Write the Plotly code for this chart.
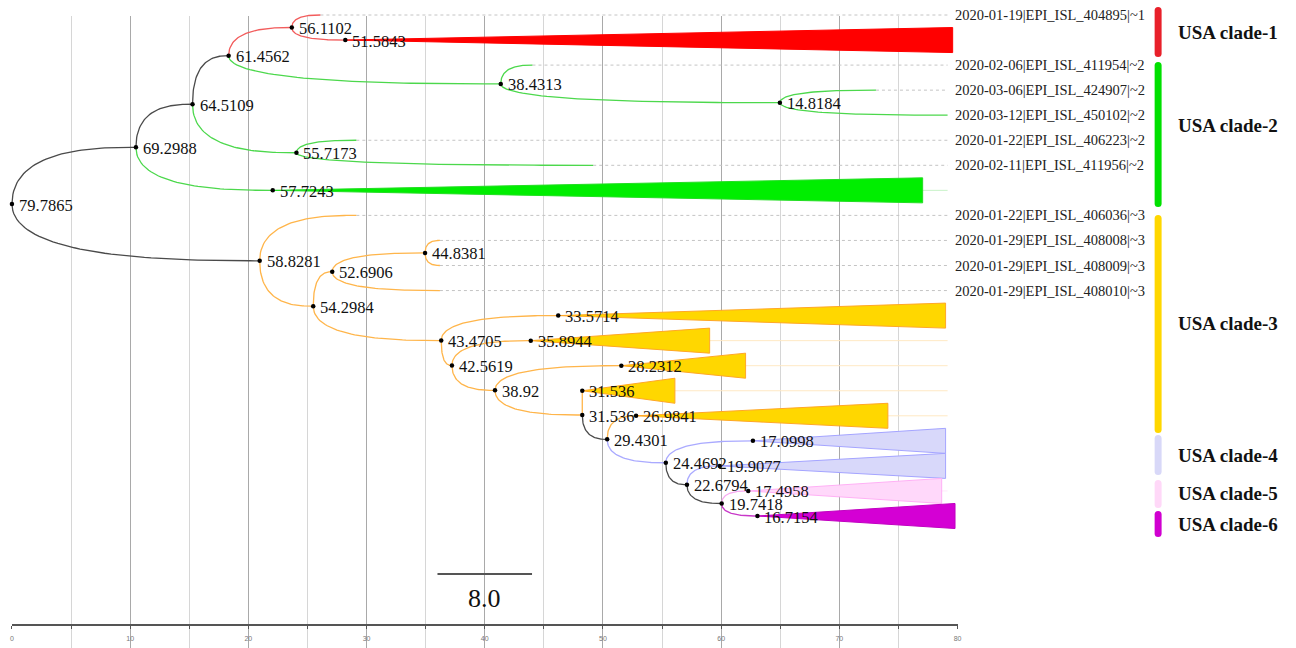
import numpy as np
import plotly.graph_objects as go

# ---------------- DATA ----------------
# rows (top to bottom): leaf tips and collapsed clades
leaf_names = [
    "2020-01-19|EPI_ISL_404895|~1", "",
    "2020-02-06|EPI_ISL_411954|~2", "2020-03-06|EPI_ISL_424907|~2",
    "2020-03-12|EPI_ISL_450102|~2", "2020-01-22|EPI_ISL_406223|~2",
    "2020-02-11|EPI_ISL_411956|~2", "",
    "2020-01-22|EPI_ISL_406036|~3", "2020-01-29|EPI_ISL_408008|~3",
    "2020-01-29|EPI_ISL_408009|~3", "2020-01-29|EPI_ISL_408010|~3",
    "", "", "", "", "", "", "", "", "",
]
# height of tip (for leaves) or of the collapsed node (for clades)
leaf_heights = [53.69, 51.5843, 35.75, 6.69, 0.63, 50.65, 30.61, 57.7243,
                50.65, 43.58, 43.58, 43.58, 33.5714, 35.8944, 28.2312, 31.536,
                26.9841, 17.0998, 19.9077, 17.4958, 16.7154]
# height at the far end of a collapsed clade's triangle (None = ordinary leaf)
clade_end_heights = [None, 0.2, None, None, None, None, None, 2.74,
                     None, None, None, None, 0.8, 20.76, 17.72, 23.7,
                     5.68, 0.8, 0.8, 1.13, 0.0]
leaf_groups = ["red", "red", "green", "green", "green", "green", "green", "green",
               "orange", "orange", "orange", "orange", "orange", "orange", "orange",
               "orange", "orange", "lav", "lav", "pink", "mag"]

internal_ids = ["A", "B", "C", "D", "E", "F", "H", "G", "N", "O",
                "P", "R", "Q", "S", "T", "U", "V", "W", "X", "Y"]
internal_heights = [79.7865, 69.2988, 64.5109, 61.4562, 56.1102, 38.4313, 14.8184,
                    55.7173, 58.8281, 54.2984, 52.6906, 44.8381, 43.4705, 42.5619,
                    38.92, 31.536, 29.4301, 24.4692, 22.6794, 19.7418]
internal_children = [["B", "N"], ["C", 7], ["D", "G"], ["E", "F"], [0, 1], [2, "H"],
                     [3, 4], [5, 6], [8, "O"], ["P", "Q"], ["R", 11], [9, 10],
                     [12, "S"], [13, "T"], [14, "U"], [15, "V"], [16, "W"],
                     [17, "X"], [18, "Y"], [19, 20]]
internal_groups = ["black", "black", "black", "black", "red", "green", "green",
                   "green", "black", "orange", "orange", "orange", "orange", "orange",
                   "orange", "orange", "black", "lav", "black", "black"]

clade_names = ["USA clade-1", "USA clade-2", "USA clade-3",
               "USA clade-4", "USA clade-5", "USA clade-6"]
clade_row_top = [-0.32, 1.88, 7.98, 16.77, 18.56, 19.80]
clade_row_bottom = [1.68, 7.66, 16.69, 18.36, 19.68, 20.84]

axis_ticks = [0, 10, 20, 30, 40, 50, 60, 70, 80]
axis_minor = [5, 15, 25, 35, 45, 55, 65, 75]
scale_len = 8.0

# ---------------- STYLE ----------------
W, H = 1296, 648
PX0, PXU = 10.0, 11.875       # pixel of 0 and pixels per unit
PY0, PYR = 15.0, 25.05        # pixel of row 0 and pixels per row
SERIF = "Liberation Serif, Times New Roman, serif"
line_col = {"black": "#4a4a4a", "red": "#f25c5c", "green": "#4cd84c",
            "orange": "#ffb54a", "lav": "#aaaaff", "pink": "#f7a8f0", "mag": "#c838c8"}
fill_col = {"red": "#ff0000", "green": "#00ee00", "orange": "#ffd700",
            "lav": "#d8d8fa", "pink": "#ffd8fa", "mag": "#d400d4"}
edge_col = {"red": "#ff0000", "green": "#22dd22", "orange": "#ffa726",
            "lav": "#a4a4ff", "pink": "#ffb0f5", "mag": "#c000c0"}
faint_col = {"red": "#ffd0d0", "green": "#c8f2c8", "orange": "#ffe9c4",
             "lav": "#e8e8ff", "pink": "#ffe8fb", "mag": "#f0c0f0"}
bar_col = ["#e8202a", "#00e000", "#ffd700", "#d8d8f8", "#ffd8f8", "#d000d0"]
label_end_u = (950 - PX0) / PXU

root_h = internal_heights[0]
idx = {k: i for i, k in enumerate(internal_ids)}


def node_pos(ref):
    if isinstance(ref, int):
        return root_h - leaf_heights[ref], float(ref)
    i = idx[ref]
    ys = [node_pos(c)[1] for c in internal_children[i]]
    return root_h - internal_heights[i], (ys[0] + ys[-1]) / 2.0


def curve(x0, y0, x1, y1, n=50, a=0.7):
    t = np.linspace(0, 1, n)
    xc = x0 + a * (x1 - x0)
    bx = (1 - t) ** 3 * x0 + 3 * (1 - t) ** 2 * t * x0 + 3 * (1 - t) * t ** 2 * xc + t ** 3 * x1
    by = (1 - t) ** 3 * y0 + 3 * (1 - t) ** 2 * t * y1 + 3 * (1 - t) * t ** 2 * y1 + t ** 3 * y1
    return list(bx), list(by)


branches = {g: ([], []) for g in line_col}
dots_x, dots_y, node_labels = [], [], []
for i, nid in enumerate(internal_ids):
    px, py = node_pos(nid)
    dots_x.append(px); dots_y.append(py)
    node_labels.append((px, py, f"{internal_heights[i]:g}"))
    for c in internal_children[i]:
        cx, cy = node_pos(c)
        g = leaf_groups[c] if isinstance(c, int) else internal_groups[idx[c]]
        bx, by = curve(px, py, cx, cy)
        branches[g][0].extend(bx + [None]); branches[g][1].extend(by + [None])

fig = go.Figure()

# grid / axis subplot (drawn first)
fig.add_trace(go.Scatter(x=[0, 80], y=[0.5, 0.5], mode="markers", marker=dict(opacity=0),
                         hoverinfo="skip", showlegend=False, xaxis="x", yaxis="y"))

# dotted guide lines from leaf tips to labels, faint lines after triangles
dx, dy = [], []
faint = {}
for r in range(len(leaf_heights)):
    if clade_end_heights[r] is None:
        tx = root_h - leaf_heights[r]
        if tx < label_end_u - 0.2:
            dx += [tx, label_end_u, None]; dy += [r, r, None]
    else:
        ex = root_h - clade_end_heights[r]
        if ex < label_end_u - 0.2:
            f = faint.setdefault(leaf_groups[r], ([], []))
            f[0].extend([ex, label_end_u, None]); f[1].extend([r, r, None])
fig.add_trace(go.Scatter(x=dx, y=dy, mode="lines", line=dict(color="#c4c4c4", width=1, dash="dot"),
                         hoverinfo="skip", showlegend=False, xaxis="x2", yaxis="y2"))
for g, (fx, fy) in faint.items():
    fig.add_trace(go.Scatter(x=fx, y=fy, mode="lines", line=dict(color=faint_col[g], width=1),
                             hoverinfo="skip", showlegend=False, xaxis="x2", yaxis="y2"))

# branches
for g, (bx, by) in branches.items():
    if bx:
        fig.add_trace(go.Scatter(x=bx, y=by, mode="lines", line=dict(color=line_col[g], width=1.3),
                                 hoverinfo="skip", showlegend=False, xaxis="x2", yaxis="y2"))

# collapsed clade triangles
for r in range(len(leaf_heights)):
    if clade_end_heights[r] is not None:
        ax = root_h - leaf_heights[r]
        ex = root_h - clade_end_heights[r]
        g = leaf_groups[r]
        fig.add_trace(go.Scatter(x=[ax, ex, ex, ax], y=[r, r - 0.5, r + 0.5, r], mode="lines",
                                 fill="toself", fillcolor=fill_col[g],
                                 line=dict(color=edge_col[g], width=1),
                                 hoverinfo="skip", showlegend=False, xaxis="x2", yaxis="y2"))
        dots_x.append(ax); dots_y.append(float(r))
        node_labels.append((ax, float(r), f"{leaf_heights[r]:g}"))

fig.add_trace(go.Scatter(x=dots_x, y=dots_y, mode="markers", marker=dict(color="black", size=4.5),
                         hoverinfo="skip", showlegend=False, xaxis="x2", yaxis="y2"))

# scale bar
sb_row = (574 - PY0) / PYR
sb_x0 = 36.0
fig.add_trace(go.Scatter(x=[sb_x0, sb_x0 + scale_len], y=[sb_row, sb_row], mode="lines",
                         line=dict(color="#555555", width=2), hoverinfo="skip",
                         showlegend=False, xaxis="x2", yaxis="y2"))

annotations = []
for (x, y, t) in node_labels:
    annotations.append(dict(x=x, y=y, xref="x2", yref="y2", text=t, showarrow=False,
                            xanchor="left", yanchor="middle", xshift=5, yshift=-1,
                            font=dict(family=SERIF, size=16.5, color="#111111")))
for r, name in enumerate(leaf_names):
    if name:
        annotations.append(dict(x=(955 - PX0) / PXU, y=r, xref="x2", yref="y2", text=name,
                                showarrow=False, xanchor="left", yanchor="middle",
                                font=dict(family=SERIF, size=14.5, color="#222222")))
annotations.append(dict(x=sb_x0 + scale_len / 2, y=(598 - PY0) / PYR, xref="x2", yref="y2",
                        text=f"{scale_len:.1f}", showarrow=False, xanchor="center",
                        yanchor="middle", font=dict(family=SERIF, size=26, color="#111111")))

shapes = []
bx0, bx1 = 1158 / W, 1165 / W
rx = 3.5 / W
ry = 3.5 / PYR
for k, nm in enumerate(clade_names):
    t0, t1 = clade_row_top[k], clade_row_bottom[k]
    xm = (bx0 + bx1) / 2
    path = (f"M {bx0},{t0 + ry} L {bx0},{t1 - ry} Q {bx0},{t1} {xm},{t1} "
            f"Q {bx1},{t1} {bx1},{t1 - ry} L {bx1},{t0 + ry} Q {bx1},{t0} {xm},{t0} "
            f"Q {bx0},{t0} {bx0},{t0 + ry} Z")
    shapes.append(dict(type="path", path=path, xref="paper", yref="y2",
                       fillcolor=bar_col[k], line=dict(width=0), layer="above"))
    yc = (t0 + t1) / 2 - (0.35 if k == 1 else 0)
    annotations.append(dict(x=1179 / W, y=yc, xref="paper", yref="y2", text=nm,
                            showarrow=False, xanchor="left", yanchor="middle",
                            font=dict(family=SERIF, size=19, color="#111111", weight="bold")))

fig.update_layout(
    width=W, height=H, margin=dict(l=0, r=0, t=0, b=0),
    paper_bgcolor="white", plot_bgcolor="rgba(0,0,0,0)", showlegend=False,
    xaxis=dict(domain=[PX0 / W, (PX0 + 80 * PXU) / W], range=[0, 80], anchor="free",
               position=23 / H, showgrid=True, gridcolor="#a9a9a9", gridwidth=1,
               tickmode="array", tickvals=axis_ticks, ticktext=[str(v) for v in axis_ticks],
               ticks="outside", ticklen=3, tickcolor="#555555", showline=True,
               linecolor="#555555", linewidth=2, zeroline=False, ticklabelstandoff=4,
               tickfont=dict(family="Liberation Sans, Arial", size=7, color="#777777"),
               minor=dict(tickmode="array", tickvals=axis_minor, showgrid=True,
                          gridcolor="#d6d6d6", gridwidth=1, ticks="outside", ticklen=3,
                          tickcolor="#555555"),
               fixedrange=True),
    yaxis=dict(domain=[0, (H - 16) / H], range=[0, 1], visible=False, fixedrange=True),
    xaxis2=dict(domain=[0, 1], range=[-PX0 / PXU, (W - PX0) / PXU], visible=False,
                anchor="y2", fixedrange=True),
    yaxis2=dict(domain=[0, 1], range=[(H - PY0) / PYR, -PY0 / PYR], visible=False,
                anchor="x2", fixedrange=True),
    annotations=annotations, shapes=shapes,
)

fig.write_html("out.html")
